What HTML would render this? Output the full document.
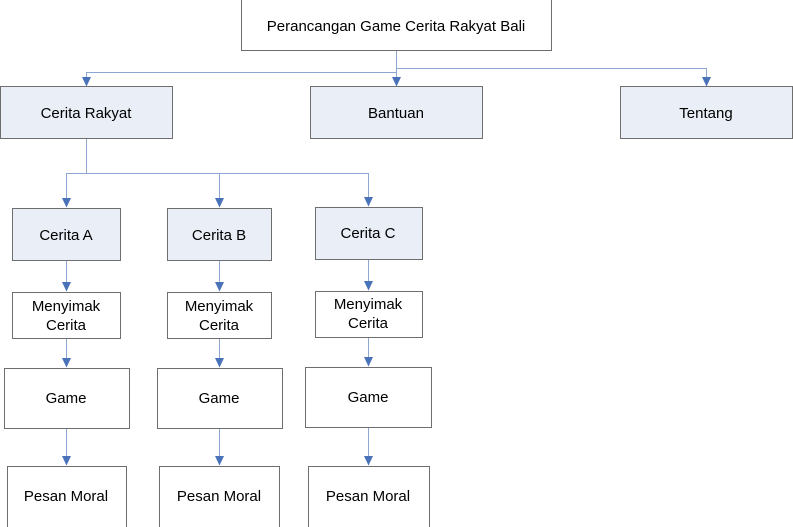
<!DOCTYPE html>
<html><head><meta charset="utf-8"><style>
html,body{margin:0;padding:0;background:#fff;width:793px;height:527px;overflow:hidden}
svg text{font-family:"Liberation Sans",Arial,sans-serif;font-size:15px;fill:#000;text-anchor:middle}
</style></head><body>
<svg width="793" height="527" viewBox="0 0 793 527" xmlns="http://www.w3.org/2000/svg">
<g stroke="#8ea7d2" stroke-width="1" fill="none">
<path d="M396.5,51 V72.5 H86.5 V86"/>
<path d="M396.5,72 V86"/>
<path d="M396.5,68.5 H706.5 V86"/>
<path d="M86.5,138 V173.5 H66.5 V207"/>
<path d="M66.5,173.5 H368.5 V206"/>
<path d="M219.5,173.5 V207"/>
<path d="M66.5,260 V291"/>
<path d="M219.5,260 V291"/>
<path d="M368.5,259 V290"/>
<path d="M66.5,338 V367"/>
<path d="M219.5,338 V367"/>
<path d="M368.5,337 V366"/>
<path d="M66.5,428 V465"/>
<path d="M219.5,428 V465"/>
<path d="M368.5,427 V465"/>
</g>
<g fill="#4a72b8">
<polygon points="82,77 91,77 86.5,86.5"/>
<polygon points="392,77 401,77 396.5,86.5"/>
<polygon points="702,77 711,77 706.5,86.5"/>
<polygon points="62,198 71,198 66.5,207.5"/>
<polygon points="215,198 224,198 219.5,207.5"/>
<polygon points="364,197 373,197 368.5,206.5"/>
<polygon points="62,282 71,282 66.5,291.5"/>
<polygon points="215,282 224,282 219.5,291.5"/>
<polygon points="364,281 373,281 368.5,290.5"/>
<polygon points="62,358 71,358 66.5,367.5"/>
<polygon points="215,358 224,358 219.5,367.5"/>
<polygon points="364,357 373,357 368.5,366.5"/>
<polygon points="62,456 71,456 66.5,465.5"/>
<polygon points="215,456 224,456 219.5,465.5"/>
<polygon points="364,456 373,456 368.5,465.5"/>
</g>
<g stroke="#6e6e6e" stroke-width="1">
<rect x="241.5" y="-0.5" width="310" height="51" fill="#fff"/>
<rect x="0.5" y="86.5" width="172" height="52" fill="#e9eef7"/>
<rect x="310.5" y="86.5" width="172" height="52" fill="#e9eef7"/>
<rect x="620.5" y="86.5" width="172" height="52" fill="#e9eef7"/>
<rect x="12.5" y="208.5" width="108" height="52" fill="#e9eef7"/>
<rect x="167.5" y="208.5" width="104" height="52" fill="#e9eef7"/>
<rect x="315.5" y="207.5" width="107" height="52" fill="#e9eef7"/>
<rect x="12.5" y="292.5" width="108" height="46" fill="#fff"/>
<rect x="167.5" y="292.5" width="104" height="46" fill="#fff"/>
<rect x="315.5" y="291.5" width="107" height="46" fill="#fff"/>
<rect x="4.5" y="368.5" width="125" height="60" fill="#fff"/>
<rect x="157.5" y="368.5" width="125" height="60" fill="#fff"/>
<rect x="305.5" y="367.5" width="126" height="60" fill="#fff"/>
<rect x="7.5" y="466.5" width="119" height="62" fill="#fff"/>
<rect x="159.5" y="466.5" width="120" height="62" fill="#fff"/>
<rect x="308.5" y="466.5" width="121" height="62" fill="#fff"/>
</g>
<text x="396" y="31">Perancangan Game Cerita Rakyat Bali</text>
<text x="86" y="118">Cerita Rakyat</text>
<text x="396" y="118">Bantuan</text>
<text x="706" y="118">Tentang</text>
<text x="66" y="240">Cerita A</text>
<text x="219" y="240">Cerita B</text>
<text x="368" y="238">Cerita C</text>
<text x="66" y="311">Menyimak</text><text x="66" y="330">Cerita</text>
<text x="219" y="311">Menyimak</text><text x="219" y="330">Cerita</text>
<text x="368" y="309">Menyimak</text><text x="368" y="328">Cerita</text>
<text x="66" y="403">Game</text>
<text x="219" y="403">Game</text>
<text x="368" y="402">Game</text>
<text x="66" y="501">Pesan Moral</text>
<text x="219" y="501">Pesan Moral</text>
<text x="368" y="501">Pesan Moral</text>
</svg>
</body></html>
